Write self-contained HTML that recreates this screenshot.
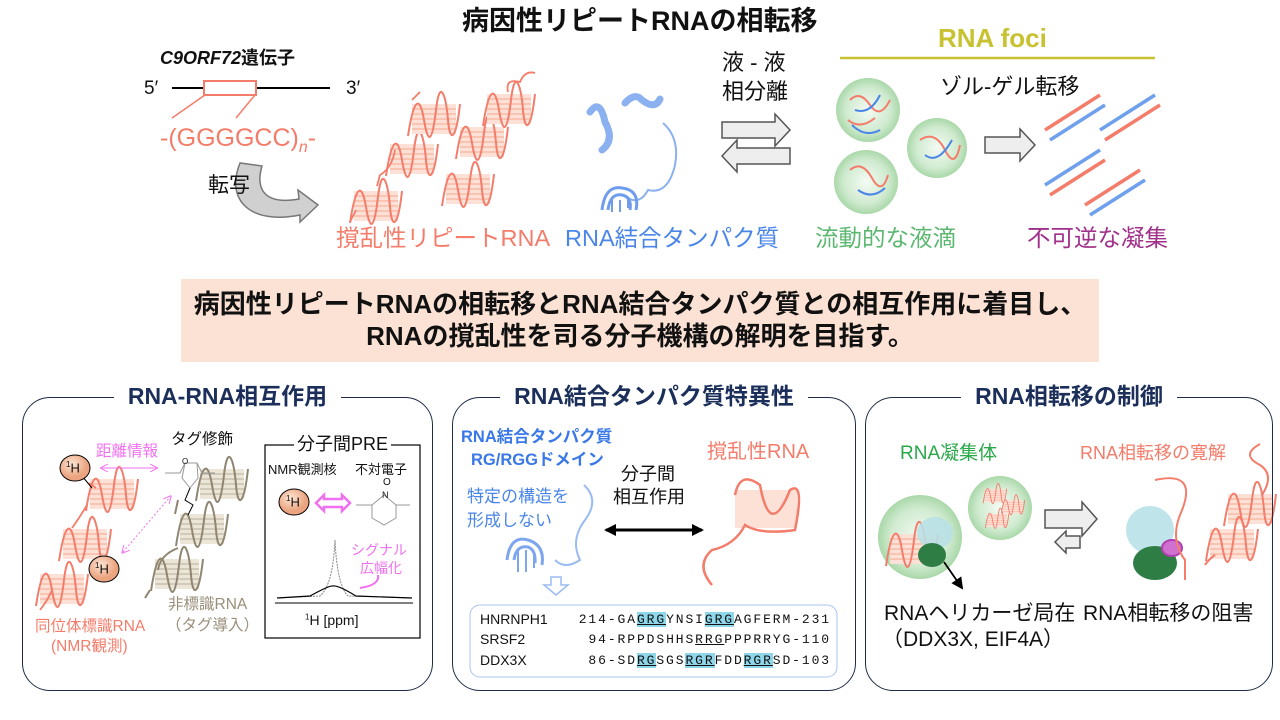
<!DOCTYPE html>
<html><head><meta charset="utf-8">
<style>
*{margin:0;padding:0;box-sizing:border-box}
body{width:1280px;height:720px;background:#fff;position:relative;overflow:hidden;font-family:"Liberation Sans","Noto Sans CJK JP",sans-serif;color:#111}
.t{position:absolute;white-space:nowrap;line-height:1}
.b{font-weight:bold}
.sal{color:#f47c6a}
.blu{color:#4a86e8}
.panel{position:absolute;border:1.5px solid #1e2d45;border-radius:28px;top:397px;height:294px}
.pt{position:absolute;top:-13px;left:0;right:0;text-align:center;font-weight:bold;font-size:23px;color:#1b2f5a;line-height:1}
.pt span{background:#fff;padding:0 14px}
.mono{font-family:"Liberation Mono",monospace;font-size:13px;letter-spacing:1.9px}
.hl{background:#8ed6ea;text-decoration:underline}
</style></head><body>
<svg width="1280" height="720" style="position:absolute;left:0;top:0">
<defs>
<g id="hx">
<rect x="0" y="4" width="44" height="30" fill="#fde0d6"/>
<g stroke="#f8a890" stroke-width="1"><line x1="0" y1="9" x2="44" y2="9"/><line x1="0" y1="14" x2="44" y2="14"/><line x1="0" y1="19" x2="44" y2="19"/><line x1="0" y1="24" x2="44" y2="24"/><line x1="0" y1="29" x2="44" y2="29"/></g>
<path d="M-4 36 C2 -4 8 -4 12 20 S20 44 24 10 S34 -4 36 20 S44 40 48 4" fill="none" stroke="#f47c6a" stroke-width="2"/>
</g>
<g id="hxg">
<rect x="0" y="4" width="44" height="30" fill="#ece6d8"/>
<g stroke="#b8ad98" stroke-width="1"><line x1="0" y1="9" x2="44" y2="9"/><line x1="0" y1="14" x2="44" y2="14"/><line x1="0" y1="19" x2="44" y2="19"/><line x1="0" y1="24" x2="44" y2="24"/><line x1="0" y1="29" x2="44" y2="29"/></g>
<path d="M-4 36 C2 -4 8 -4 12 20 S20 44 24 10 S34 -4 36 20 S44 40 48 4" fill="none" stroke="#8f8570" stroke-width="2"/>
</g>
<radialGradient id="drop"><stop offset="0" stop-color="#f4fbf4"/><stop offset="0.7" stop-color="#cfeacf"/><stop offset="1" stop-color="#a9d8a9"/></radialGradient>
<radialGradient id="hball" cx="0.4" cy="0.35"><stop offset="0" stop-color="#fde6d6"/><stop offset="1" stop-color="#eba47f"/></radialGradient>
<marker id="ak" markerUnits="userSpaceOnUse" markerWidth="12" markerHeight="12" refX="10" refY="6" orient="auto-start-reverse"><path d="M0 0L12 6L0 12z" fill="#000"/></marker>
<marker id="apk" markerWidth="8" markerHeight="8" refX="6" refY="4" orient="auto-start-reverse"><path d="M0 0L8 4L0 8" fill="none" stroke="#f070f0"/></marker>
</defs>
<line x1="172" y1="88" x2="330" y2="88" stroke="#000" stroke-width="2"/>
<rect x="204" y="81" width="52" height="14" fill="#fff" stroke="#f47c6a" stroke-width="2"/>
<line x1="205" y1="95" x2="172" y2="118" stroke="#f47c6a" stroke-width="1.5"/>
<line x1="255" y1="95" x2="236" y2="118" stroke="#f47c6a" stroke-width="1.5"/>
<path d="M240 163 C225 200 250 225 300 215 L300 222 L318 205 L298 190 L299 199 C265 205 255 190 262 166 Z" fill="#d0d0d0" stroke="#777" stroke-width="1.5"/>
<use href="#hx" x="354" y="187"/><use href="#hx" x="390" y="140"/><use href="#hx" x="412" y="100"/>
<use href="#hx" x="460" y="123"/><use href="#hx" x="446" y="170"/><use href="#hx" x="487" y="90"/>
<path d="M350 222 L356 210 M377 186 L380 175 Q392 168 395 150 M412 100 L420 92 M508 92 Q505 78 520 82 Q525 70 535 73" fill="none" stroke="#f47c6a" stroke-width="1.8"/>
<path d="M590 112 Q600 98 605 122 Q615 140 602 150 M625 103 Q635 92 642 100 Q655 110 660 99" stroke="#8cb1f0" stroke-width="7" fill="none" stroke-linecap="round"/>
<path d="M663 123 Q680 138 675 165 Q668 195 648 190 Q640 205 628 198" stroke="#8cb1f0" stroke-width="2" fill="none"/>
<path d="M602 210 Q605 185 622 188 Q640 190 636 210 M608 210 Q610 193 622 195 Q632 197 630 210" stroke="#6f9cec" stroke-width="3" fill="none"/>
<path d="M612 200 L612 212 M620 200 L620 212 M628 198 L628 208" stroke="#6f9cec" stroke-width="2"/>
<path d="M722 122 L775 122 L775 114 L790 130 L775 146 L775 138 L722 138Z" fill="#eee" stroke="#555" stroke-width="1.5"/>
<path d="M790 148 L737 148 L737 140 L722 156 L737 172 L737 164 L790 164Z" fill="#eee" stroke="#555" stroke-width="1.5"/>
<line x1="840" y1="58" x2="1155" y2="58" stroke="#c8c230" stroke-width="2.5"/>
<g stroke-width="2" fill="none">
<circle cx="868" cy="110" r="32" fill="url(#drop)" stroke="none"/>
<circle cx="937" cy="148" r="30" fill="url(#drop)" stroke="none"/>
<circle cx="866" cy="182" r="32" fill="url(#drop)" stroke="none"/>
<path d="M850 100 Q860 90 870 105 T890 100 M848 120 Q860 130 875 118 M850 170 Q862 160 872 178 T888 175 M920 140 Q935 130 945 150 T960 145" stroke="#f47c6a"/>
<path d="M855 110 Q870 115 880 95 M858 190 Q872 200 885 188 M925 155 Q938 165 952 140 M852 125 Q865 138 880 130" stroke="#4a86e8"/>
</g>
<path d="M985 137 L1020 137 L1020 129 L1035 145 L1020 161 L1020 153 L985 153Z" fill="#eee" stroke="#555" stroke-width="1.5"/>
<g stroke-width="3.5">
<line x1="1045" y1="130" x2="1100" y2="95" stroke="#f47c6a"/><line x1="1050" y1="140" x2="1105" y2="105" stroke="#6fa0ee"/>
<line x1="1100" y1="130" x2="1155" y2="95" stroke="#6fa0ee"/><line x1="1105" y1="140" x2="1160" y2="105" stroke="#f47c6a"/>
<line x1="1045" y1="185" x2="1100" y2="150" stroke="#6fa0ee"/><line x1="1050" y1="195" x2="1105" y2="160" stroke="#f47c6a"/>
<line x1="1085" y1="205" x2="1140" y2="170" stroke="#f47c6a"/><line x1="1090" y1="215" x2="1145" y2="180" stroke="#6fa0ee"/>
</g>
<rect x="181" y="279" width="918" height="83" fill="#fbe2d4"/>

<use href="#hxg" x="200" y="465"/><use href="#hxg" x="180" y="510"/><use href="#hxg" x="155" y="555"/>
<path d="M178 500 L175 514 M178 548 Q160 555 158 570 M150 590 L145 598" stroke="#8f8570" stroke-width="2" fill="none"/>
<use href="#hx" x="90" y="475"/><use href="#hx" x="63" y="525"/><use href="#hx" x="40" y="570"/>
<path d="M89 483 L96 488 M87 505 Q78 520 72 528 M100 555 L110 570 M52 590 Q48 600 40 610" stroke="#f47c6a" stroke-width="1.8" fill="none"/>
<line x1="82" y1="476" x2="92" y2="488" stroke="#000"/><line x1="93" y1="560" x2="98" y2="568" stroke="#000"/>
<ellipse cx="75" cy="468" rx="15" ry="13" fill="url(#hball)" stroke="#000"/>
<ellipse cx="104" cy="569" rx="15" ry="13" fill="url(#hball)" stroke="#000"/>
<line x1="102" y1="468" x2="156" y2="468" stroke="#f070f0" marker-start="url(#apk)" marker-end="url(#apk)"/>
<line x1="123" y1="552" x2="170" y2="497" stroke="#f070f0" stroke-dasharray="2 2" marker-start="url(#apk)" marker-end="url(#apk)"/>
<g stroke="#999" fill="none"><path d="M165 473 L180 473 L185 463 L197 463 L202 473 L215 473 M185 463 L182 478 L190 488 L198 478 L197 463"/></g>
<path d="M190 488 L185 500 L193 505 L188 515" stroke="#000" fill="none"/>
<rect x="265" y="445" width="155" height="193" fill="#fff" stroke="#000" stroke-width="1.2"/>
<ellipse cx="294" cy="502" rx="15" ry="13" fill="url(#hball)" stroke="#000"/>
<path d="M316 503 L324 495 L324 499 L342 499 L342 495 L350 503 L342 511 L342 507 L324 507 L324 511Z" fill="#fff" stroke="#f070f0" stroke-width="2.5"/>
<g stroke="#999" fill="none"><path d="M356 505 L372 505 L384 495 L396 505 L410 505 M372 505 L372 518 L384 525 L396 518 L396 505"/></g>
<path d="M277 598 L320 596 Q333 585 335 540 Q337 585 348 596 L412 598" fill="none" stroke="#888" stroke-dasharray="2 1"/>
<path d="M277 598 L310 596 Q330 585 333 586 Q338 585 356 596 L412 598" fill="none" stroke="#000" stroke-width="1.2"/>
<line x1="275" y1="603" x2="413" y2="603" stroke="#000"/>
<path d="M360 588 Q380 585 378 575" stroke="#f070f0" stroke-width="2" fill="none"/>

<path d="M584 485 Q600 500 585 520 Q570 540 580 560 Q565 570 555 560" stroke="#9bbcf2" stroke-width="2" fill="none"/>
<path d="M507 560 Q510 535 528 540 Q545 545 542 565 M514 560 Q516 545 528 547 Q536 550 535 563" stroke="#7ea6ee" stroke-width="3" fill="none"/>
<path d="M518 550 L518 572 M526 550 L526 572 M534 555 L534 568" stroke="#7ea6ee" stroke-width="2"/>
<path d="M551 577 L561 577 L561 585 L568 585 L556 595 L544 585 L551 585Z" fill="#fff" stroke="#9bbcf2" stroke-width="1.5"/>
<line x1="606" y1="530" x2="702" y2="530" stroke="#000" stroke-width="3" marker-start="url(#ak)" marker-end="url(#ak)"/>
<rect x="735" y="490" width="62" height="38" fill="#fde0d6"/>
<path d="M735 495 Q740 470 760 485 Q770 540 790 490 Q805 480 795 530 Q760 535 745 525 Q735 545 712 550 Q695 565 712 585" stroke="#f47c6a" stroke-width="2.5" fill="none"/>
<rect x="470" y="605" width="367" height="72" rx="10" fill="#fff" stroke="#a9c4f2"/>

<circle cx="920" cy="537" r="42" fill="url(#drop)"/>
<circle cx="1000" cy="508" r="32" fill="url(#drop)"/>
<use href="#hx" x="890" y="530"/>
<g transform="translate(985,487) scale(0.45)"><use href="#hx" x="0" y="0"/><use href="#hx" x="40" y="25"/><use href="#hx" x="5" y="55"/></g>
<ellipse cx="935" cy="533" rx="18" ry="16" fill="#b9e0e6" opacity="0.9"/>
<ellipse cx="932" cy="555" rx="14" ry="12" fill="#2e7d45"/>
<line x1="944" y1="562" x2="962" y2="588" stroke="#000" stroke-width="1.8" marker-end="url(#ak)"/>
<path d="M1045 510 L1082 510 L1082 502 L1097 519 L1082 536 L1082 528 L1045 528Z" fill="#eee" stroke="#555" stroke-width="1.5"/>
<path d="M1080 536 L1066 536 L1066 531 L1055 542 L1066 553 L1066 548 L1080 548Z" fill="#eee" stroke="#555" stroke-width="1.5"/>
<ellipse cx="1150" cy="530" rx="24" ry="24" fill="#bfe4ea"/>
<ellipse cx="1155" cy="563" rx="22" ry="17" fill="#2e7d45"/>
<ellipse cx="1172" cy="548" rx="10" ry="8" fill="#d070d0" stroke="#b040b0" stroke-width="2"/>
<path d="M1155 480 Q1200 470 1180 515 Q1170 540 1185 560 L1185 580" stroke="#f47c6a" stroke-width="2" fill="none"/>
<use href="#hx" x="1228" y="490"/><use href="#hx" x="1210" y="525"/>
<path d="M1260 444 Q1240 455 1260 465 Q1275 475 1262 495 M1215 555 Q1208 560 1205 565" stroke="#f47c6a" stroke-width="2" fill="none"/>
</svg>

<div class="t b" style="left:462px;top:8px;font-size:27px">病因性リピートRNAの相転移</div>
<div class="t b" style="left:160px;top:49px;font-size:18px"><i>C9ORF72</i>遺伝子</div>
<div class="t" style="left:144px;top:79px;font-size:19px">5′</div>
<div class="t" style="left:346px;top:79px;font-size:19px">3′</div>
<div class="t sal" style="left:160px;top:126px;font-size:25px">-(GGGGCC)<sub style="font-size:16px;font-style:italic">n</sub>-</div>
<div class="t" style="left:208px;top:175px;font-size:21px">転写</div>
<div class="t sal" style="left:336px;top:227px;font-size:23.5px">撹乱性リピートRNA</div>
<div class="t blu" style="left:565px;top:227px;font-size:23.5px">RNA結合タンパク質</div>
<div class="t" style="left:722px;top:52px;font-size:22px">液 - 液</div>
<div class="t" style="left:722px;top:81px;font-size:22px">相分離</div>
<div class="t b" style="left:938px;top:25px;font-size:26px;color:#c8c230">RNA foci</div>
<div class="t" style="left:940px;top:76px;font-size:22px">ゾル-ゲル転移</div>
<div class="t" style="left:815px;top:227px;font-size:23.5px;color:#5cb870">流動的な液滴</div>
<div class="t" style="left:1027px;top:227px;font-size:23.5px;color:#a0308a">不可逆な凝集</div>
<div class="t b" style="left:181px;width:918px;text-align:center;top:291px;font-size:26px">病因性リピートRNAの相転移とRNA結合タンパク質との相互作用に着目し、</div>
<div class="t b" style="left:181px;width:918px;text-align:center;top:323px;font-size:26px">RNAの撹乱性を司る分子機構の解明を目指す。</div>

<div class="panel" style="left:22px;width:411px"><div class="pt"><span>RNA-RNA相互作用</span></div></div>
<div class="panel" style="left:452px;width:404px"><div class="pt"><span>RNA結合タンパク質特異性</span></div></div>
<div class="panel" style="left:865px;width:408px"><div class="pt"><span>RNA相転移の制御</span></div></div>

<div class="t" style="left:171px;top:432px;font-size:15.5px">タグ修飾</div>
<div class="t" style="left:96px;top:444px;font-size:15.5px;color:#f070f0">距離情報</div>
<div class="t" style="left:66px;top:461px;font-size:13px"><sup style="font-size:8px">1</sup>H</div>
<div class="t" style="left:95px;top:562px;font-size:13px"><sup style="font-size:8px">1</sup>H</div>
<div class="t" style="left:168px;top:597px;font-size:15.5px;color:#9a8f7a">非標識RNA</div>
<div class="t" style="left:166px;top:618px;font-size:15.5px;color:#9a8f7a">（タグ導入）</div>
<div class="t sal" style="left:35px;top:619px;font-size:15.5px">同位体標識RNA</div>
<div class="t sal" style="left:51px;top:639px;font-size:15.5px">(NMR観測)</div>
<div class="t" style="left:294px;top:435px;font-size:18px;background:#fff;padding:0 3px">分子間PRE</div>
<div class="t" style="left:268px;top:463px;font-size:13px">NMR観測核</div>
<div class="t" style="left:355px;top:463px;font-size:13px">不対電子</div>
<div class="t" style="left:286px;top:495px;font-size:13px"><sup style="font-size:8px">1</sup>H</div>
<div class="t" style="left:383px;top:478px;font-size:10px">O</div>
<div class="t" style="left:382px;top:491px;font-size:9px">N</div>
<div class="t" style="left:182px;top:458px;font-size:8px">O</div>
<div class="t" style="left:351px;top:543px;font-size:14px;color:#f070f0">シグナル</div>
<div class="t" style="left:360px;top:561px;font-size:14px;color:#f070f0">広幅化</div>
<div class="t" style="left:305px;top:613px;font-size:14px"><sup style="font-size:8px">1</sup>H [ppm]</div>

<div class="t b blu" style="left:461px;top:429px;font-size:16.5px;color:#3a78e8">RNA結合タンパク質</div>
<div class="t b blu" style="left:471px;top:452px;font-size:16.5px;color:#3a78e8">RG/RGGドメイン</div>
<div class="t" style="left:621px;top:465px;font-size:18px">分子間</div>
<div class="t" style="left:613px;top:488px;font-size:18px">相互作用</div>
<div class="t blu" style="left:467px;top:488px;font-size:17px">特定の構造を</div>
<div class="t blu" style="left:467px;top:512px;font-size:17px">形成しない</div>
<div class="t sal" style="left:707px;top:442px;font-size:20px">撹乱性RNA</div>
<div class="t" style="left:480px;top:612px;font-size:14px">HNRNPH1</div>
<div class="t" style="left:480px;top:632px;font-size:14px">SRSF2</div>
<div class="t" style="left:480px;top:653px;font-size:14px">DDX3X</div>
<div class="t mono" style="right:449px;top:613px">214-GA<span class="hl">GRG</span>YNSI<span class="hl">GRG</span>AGFERM-231</div>
<div class="t mono" style="right:449px;top:633px">94-RPPDSHHS<span style="text-decoration:underline">RRG</span>PPPRRYG-110</div>
<div class="t mono" style="right:449px;top:654px">86-SD<span class="hl">RG</span>SGS<span class="hl">RGR</span>FDD<span class="hl">RGR</span>SD-103</div>

<div class="t" style="left:900px;top:444px;font-size:19px;color:#2aa84a">RNA凝集体</div>
<div class="t sal" style="left:1080px;top:444px;font-size:18px">RNA相転移の寛解</div>
<div class="t" style="left:884px;top:603px;font-size:21px">RNAヘリカーゼ局在</div>
<div class="t" style="left:1083px;top:603px;font-size:21px">RNA相転移の阻害</div>
<div class="t" style="left:882px;top:629px;font-size:21px">（DDX3X, EIF4A）</div>
</body></html>
